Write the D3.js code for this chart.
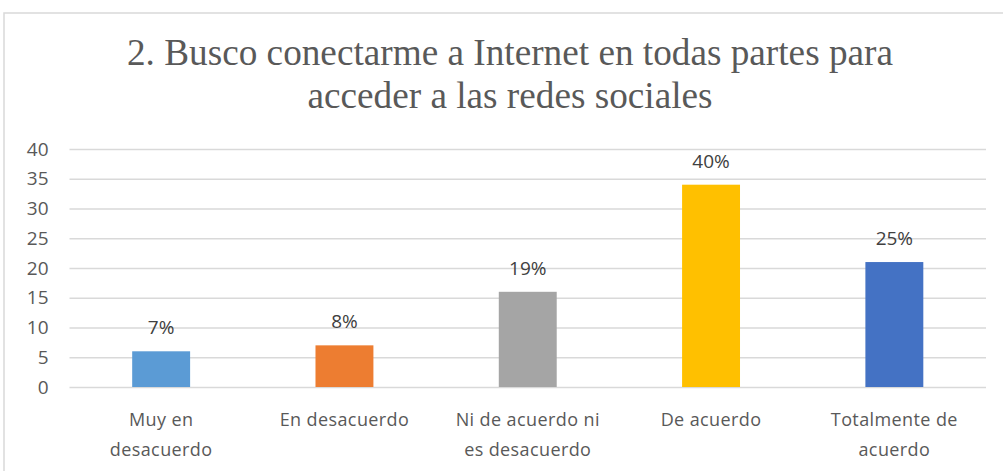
<!DOCTYPE html>
<html>
<head>
<meta charset="utf-8">
<script src="https://cdn.jsdelivr.net/npm/d3@7"></script>
<style>
  html, body { margin: 0; padding: 0; background: #fff; }
  svg { display: block; }
</style>
</head>
<body>
<svg id="chart" width="1003" height="471"></svg>
<script>
// Survey answers for question 2
const categories = [
  ["Muy en", "desacuerdo"],
  ["En desacuerdo"],
  ["Ni de acuerdo ni", "es desacuerdo"],
  ["De acuerdo"],
  ["Totalmente de", "acuerdo"]
];
const counts = [6, 7, 16, 34, 21];
const colors = ["#5B9BD5", "#ED7D31", "#A5A5A5", "#FFC000", "#4472C4"];
const yTicks = [0, 5, 10, 15, 20, 25, 30, 35, 40];
const titleLines = [
  "2. Busco conectarme a Internet en todas partes para",
  "acceder a las redes sociales"
];

const total = d3.sum(counts);
const percentLabels = counts.map(v => Math.round(v / total * 100) + "%");

const svg = d3.select("#chart");
const sans = "'Open Sans', 'DejaVu Sans', sans-serif";

// Chart frame
svg.append("path")
  .attr("d", "M4,471 V13 H1003")
  .attr("fill", "none")
  .attr("stroke", "#d9d9d9")
  .attr("stroke-width", 1.5);

// Title
const titleWidths = [766, 405];
svg.append("g")
  .selectAll("text")
  .data(titleLines)
  .join("text")
  .attr("x", 510)
  .attr("y", (d, i) => 65 + i * 43)
  .attr("text-anchor", "middle")
  .attr("font-family", "'Liberation Serif', 'Times New Roman', serif")
  .attr("font-size", 38)
  .attr("fill", "#595959")
  .attr("textLength", (d, i) => titleWidths[i])
  .attr("lengthAdjust", "spacingAndGlyphs")
  .text(d => d);

const x = d3.scaleBand()
  .domain(d3.range(categories.length))
  .range([69.5, 986])
  .paddingInner(0.684)
  .paddingOuter(0.342);

const y = d3.scaleLinear().domain([0, 40]).range([387, 149]);

// Gridlines and y tick labels
const yAxis = d3.axisLeft(y)
  .tickValues(yTicks)
  .tickSize(-(986 - 69.5))
  .tickPadding(21);

const gy = svg.append("g")
  .attr("transform", "translate(69.5,0)")
  .call(yAxis);
gy.select(".domain").remove();
gy.selectAll(".tick line")
  .attr("stroke", "#d9d9d9")
  .attr("stroke-width", 1.5);
gy.selectAll(".tick text")
  .attr("font-family", sans)
  .attr("font-size", 19)
  .attr("fill", "#595959");

// Bars
svg.append("g")
  .selectAll("rect")
  .data(counts)
  .join("rect")
  .attr("x", (d, i) => x(i))
  .attr("y", d => y(d))
  .attr("width", x.bandwidth())
  .attr("height", d => y(0) - y(d))
  .attr("fill", (d, i) => colors[i]);

// Percentage labels above bars
svg.append("g")
  .selectAll("text")
  .data(counts)
  .join("text")
  .attr("x", (d, i) => x(i) + x.bandwidth() / 2)
  .attr("y", d => y(d) - 17)
  .attr("text-anchor", "middle")
  .attr("font-family", sans)
  .attr("font-size", 19)
  .attr("fill", "#404040")
  .text((d, i) => percentLabels[i]);

// Category labels
const cat = svg.append("g")
  .selectAll("text")
  .data(categories)
  .join("text")
  .attr("text-anchor", "middle")
  .attr("font-family", sans)
  .attr("font-size", 18)
  .attr("letter-spacing", 0.4)
  .attr("fill", "#595959");
cat.selectAll("tspan")
  .data((d, i) => d.map(line => ({ line, i })))
  .join("tspan")
  .attr("x", d => x(d.i) + x.bandwidth() / 2)
  .attr("y", (d, j) => 426 + j * 30)
  .text(d => d.line);
</script>
</body>
</html>
